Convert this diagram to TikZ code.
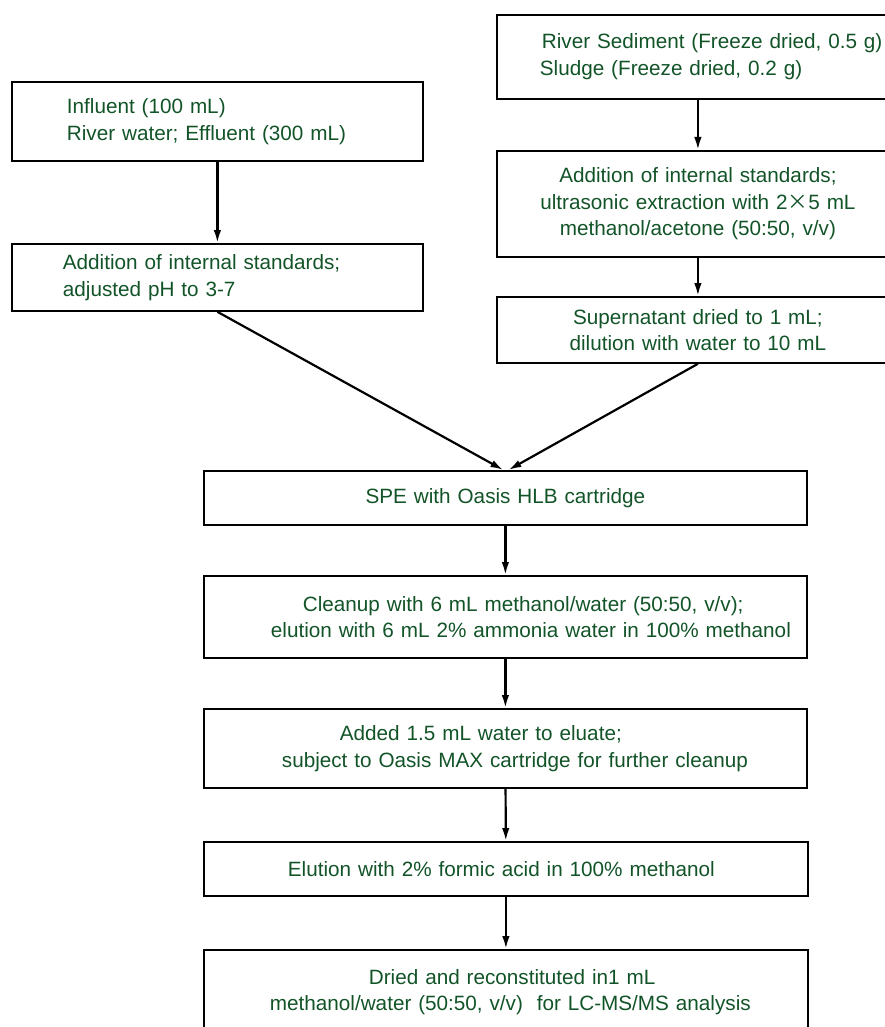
\documentclass[tikz,border=0pt]{standalone}
\usepackage{fontspec}
\setmainfont{Liberation Sans}
\newfontfamily\cjk{Noto Sans CJK SC}
\usetikzlibrary{arrows.meta}
\definecolor{txtgreen}{RGB}{18,84,40}
\tikzset{
  box/.style={draw, line width=1.8pt, inner sep=0pt, anchor=north west,
    font=\fontsize{20.7}{26.5}\selectfont, text=txtgreen},
  arr/.style={line width=2.2pt, -{Latex[length=13pt,width=7.5pt]}}
}
\begin{document}
\begin{tikzpicture}[x=1pt,y=-1pt]
\useasboundingbox (0,0) rectangle (885,1027);
\node[box, text width=411pt, minimum height=79pt, align=left] (A) at (11,81)
  {\hspace*{55pt}Influent (100 mL)\\\hspace*{55pt}River water; Effluent (300 mL)};
\node[box, text width=411pt, minimum height=67pt, align=left] (B) at (11,243)
  {\hspace*{51pt}Addition of internal standards;\\\hspace*{51pt}adjusted pH to 3-7};
\node[box, text width=402pt, minimum height=84pt, align=left] (C) at (496,14)
  {\hspace*{45pt}River Sediment (Freeze dried, 0.5 g)\\\hspace*{43pt}Sludge (Freeze dried, 0.2 g)};
\node[box, text width=402pt, minimum height=106pt, align=center] (D) at (496,150)
  {Addition of internal standards;\\ultrasonic extraction with 2{\cjk ×}5 mL\\methanol/acetone (50:50, v/v)};
\node[box, text width=402pt, minimum height=66pt, align=center] (E) at (496,296)
  {Supernatant dried to 1 mL;\\dilution with water to 10 mL};
\node[box, text width=603pt, minimum height=54pt, align=center] (F) at (203,470)
  {SPE with Oasis HLB cartridge};
\node[box, text width=603pt, minimum height=82pt, align=left] (G) at (203,575)
  {\hspace*{99pt}Cleanup with 6 mL methanol/water (50:50, v/v);\\\hspace*{67pt}elution with 6 mL 2\% ammonia water in 100\% methanol};
\node[box, text width=603pt, minimum height=79pt, align=left] (H) at (203,708)
  {\hspace*{136pt}Added 1.5 mL water to eluate;\\\hspace*{78pt}subject to Oasis MAX cartridge for further cleanup};
\node[box, text width=604pt, minimum height=54pt, align=left] (I) at (203,841)
  {\hspace*{84pt}Elution with 2\% formic acid in 100\% methanol};
\node[box, text width=604pt, minimum height=84pt, align=left] (J) at (203,949)
  {\hspace*{165pt}Dried and reconstituted in1 mL\\\hspace*{66pt}methanol/water (50:50, v/v)\ \ for LC-MS/MS analysis};
\draw[arr] (A) -- (B);
\draw[arr] (C) -- (D);
\draw[arr] (D) -- (E);
\draw[arr] (B.south) -- ([xshift=-2pt]F.north);
\draw[arr] (E.south) -- ([xshift=3pt]F.north);
\draw[arr] (F) -- (G);
\draw[arr] (G) -- (H);
\draw[arr] (H) -- (I);
\draw[arr] (I) -- (J);
\end{tikzpicture}
\end{document}
